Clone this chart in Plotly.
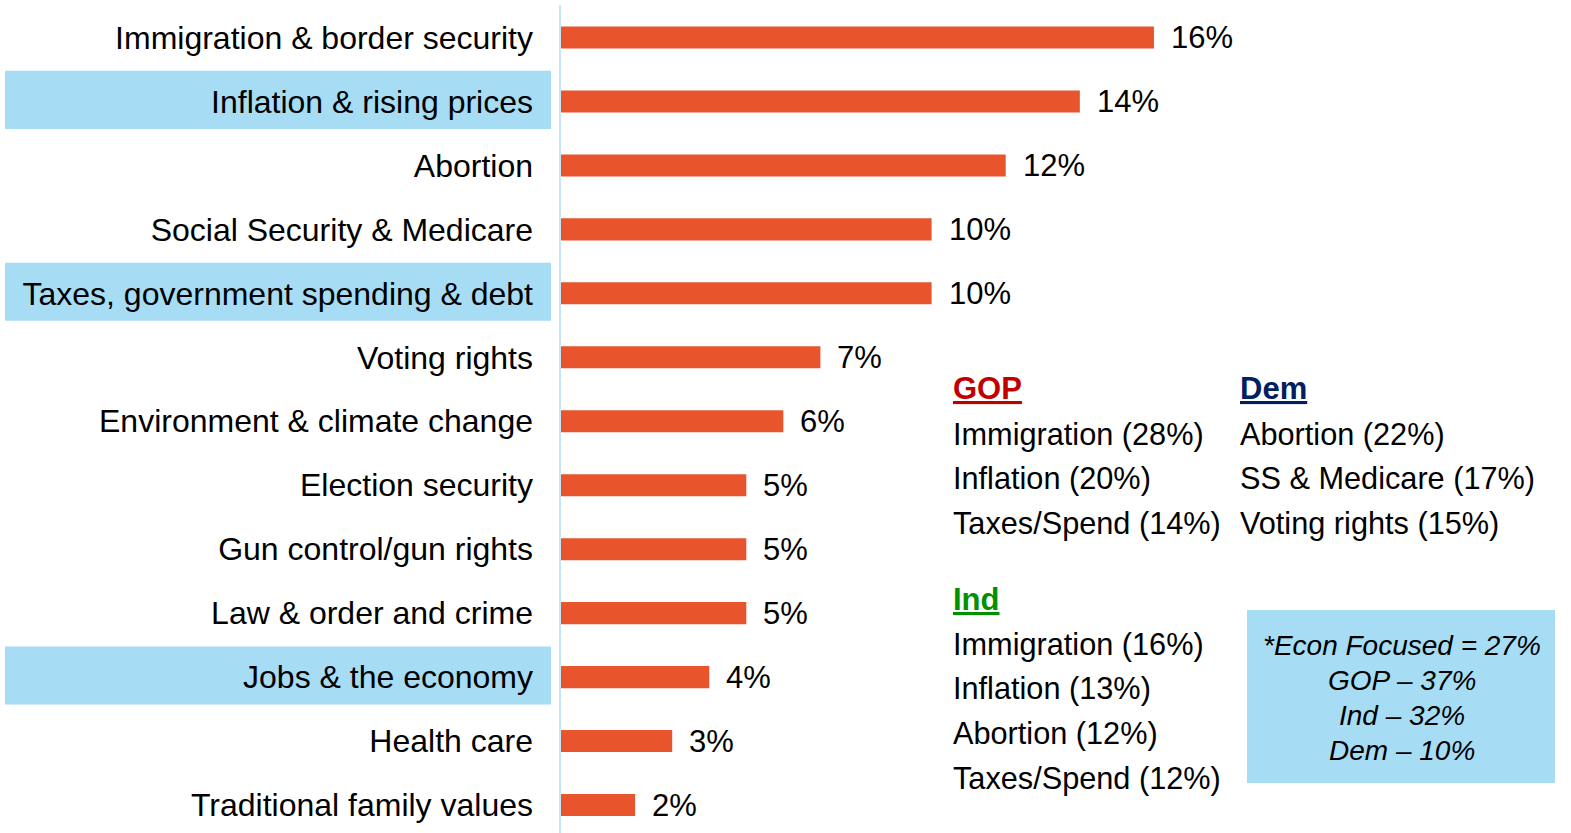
import plotly.graph_objects as go

# ---- data ----
categories = [
    "Immigration & border security",
    "Inflation & rising prices",
    "Abortion",
    "Social Security & Medicare",
    "Taxes, government spending & debt",
    "Voting rights",
    "Environment & climate change",
    "Election security",
    "Gun control/gun rights",
    "Law & order and crime",
    "Jobs & the economy",
    "Health care",
    "Traditional family values",
]
values = [16, 14, 12, 10, 10, 7, 6, 5, 5, 5, 4, 3, 2]
highlighted = ["Inflation & rising prices", "Taxes, government spending & debt", "Jobs & the economy"]

gop_topics = ["Immigration", "Inflation", "Taxes/Spend"]
gop_pcts = [28, 20, 14]
dem_topics = ["Abortion", "SS & Medicare", "Voting rights"]
dem_pcts = [22, 17, 15]
ind_topics = ["Immigration", "Inflation", "Abortion", "Taxes/Spend"]
ind_pcts = [16, 13, 12, 12]

econ_total = 27
econ_parties = ["GOP", "Ind", "Dem"]
econ_pcts = [37, 32, 10]

# ---- style ----
W, H = 1571, 833
L = 561
BAR = "#E8552D"
HL = "#A6DCF4"
FONT = "Liberation Sans, Arial, sans-serif"

px_per_pct = 37.06
row0, row_step = 37.5, 63.96

def py(ypx):
    return 1 - ypx / H

def pxx(xpx):
    return (xpx - L) / (W - L)

fig = go.Figure(go.Bar(
    x=values, y=categories, orientation="h",
    marker=dict(color=BAR, line=dict(width=0)),
    width=0.345, hoverinfo="skip",
))

shapes = []
for c in highlighted:
    i = categories.index(c)
    shapes.append(dict(type="rect", xref="paper", yref="y",
                       x0=pxx(5), x1=pxx(551), y0=i - 0.48, y1=i + 0.43,
                       fillcolor=HL, line=dict(width=0), layer="below"))
# axis line
shapes.append(dict(type="line", xref="paper", yref="paper", x0=pxx(560), x1=pxx(560),
                   y0=0, y1=py(5), line=dict(color="#C5E6F6", width=2)))
# econ box
shapes.append(dict(type="rect", xref="paper", yref="paper",
                   x0=pxx(1247), x1=pxx(1555), y0=py(783), y1=py(610),
                   fillcolor=HL, line=dict(width=0), layer="below"))

ann = []
for c, v in zip(categories, values):
    ann.append(dict(x=v, y=c, xref="x", yref="y", text=f"{v}%", showarrow=False,
                    xanchor="left", yanchor="middle", xshift=15, yshift=0,
                    font=dict(family=FONT, size=31, color="#000")))

def block(title, color, topics, pcts, xpx, ytitle, ystart):
    ann.append(dict(x=pxx(xpx), y=py(ytitle), xref="paper", yref="paper",
                    text=f"<b><u>{title}</u></b>", showarrow=False,
                    xanchor="left", yanchor="middle",
                    font=dict(family=FONT, size=31, color=color)))
    for k, (t, p) in enumerate(zip(topics, pcts)):
        ann.append(dict(x=pxx(xpx), y=py(ystart + k * 44.8), xref="paper", yref="paper",
                        text=f"{t} ({p}%)", showarrow=False,
                        xanchor="left", yanchor="middle",
                        font=dict(family=FONT, size=30.7, color="#000")))

block("GOP", "#C00000", gop_topics, gop_pcts, 951, 388, 434)
block("Dem", "#002060", dem_topics, dem_pcts, 1238, 388, 434)
block("Ind", "#009100", ind_topics, ind_pcts, 951, 599, 644)

econ_lines = [f"*Econ Focused = {econ_total}%"] + [f"{p} – {v}%" for p, v in zip(econ_parties, econ_pcts)]
for k, t in enumerate(econ_lines):
    ann.append(dict(x=pxx(1402), y=py(645 + k * 35), xref="paper", yref="paper",
                    text=f"<i>{t}</i>", showarrow=False, xanchor="center", yanchor="middle",
                    font=dict(family=FONT, size=28, color="#000")))

top_idx = -row0 / row_step
bot_idx = (len(categories) - 1) + (H - (row0 + row_step * (len(categories) - 1))) / row_step

fig.update_layout(
    width=W, height=H, autosize=False,
    margin=dict(l=L, r=0, t=0, b=0, pad=0),
    paper_bgcolor="white", plot_bgcolor="white",
    showlegend=False,
    xaxis=dict(range=[0, (W - L) / px_per_pct], visible=False, fixedrange=True),
    yaxis=dict(range=[bot_idx, top_idx], showgrid=False, zeroline=False, showline=False,
               ticks="", ticklabelstandoff=27,
               tickfont=dict(family=FONT, size=32, color="#000"), fixedrange=True),
    shapes=shapes, annotations=ann,
)

fig.write_html("out.html", config={"displayModeBar": False})
